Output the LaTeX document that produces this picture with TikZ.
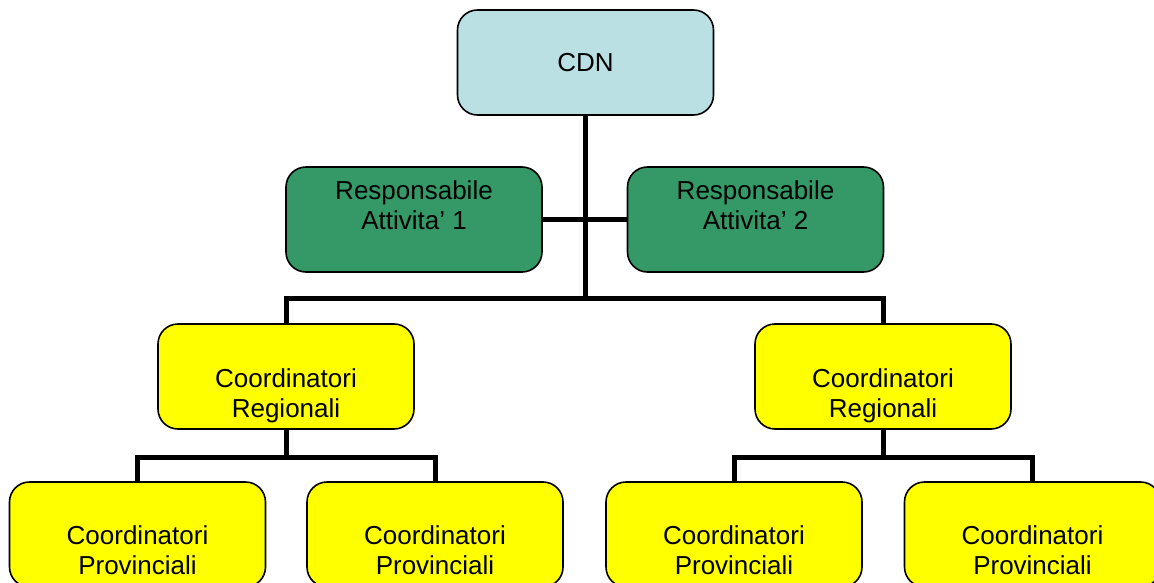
\documentclass[tikz,border=0pt]{standalone}
\usepackage{fontspec}
\setmainfont{Liberation Sans}
\definecolor{cdnblue}{RGB}{186,224,228}
\definecolor{resgreen}{RGB}{52,153,102}
\definecolor{coyellow}{RGB}{255,255,0}
\begin{document}
\begin{tikzpicture}[x=1pt,y=-1pt,
  box/.style={draw=black,line width=1.6pt,rounded corners=20pt,minimum width=256pt,minimum height=105pt,inner sep=0pt},
  conn/.style={draw=black,line width=5pt},
  txt/.style={align=center,font=\fontsize{26}{30}\selectfont,inner sep=0pt}]
\useasboundingbox (0,0) rectangle (1154,583);
% boxes
\node[box,fill=cdnblue] (cdn) at (585.5,62.5) {};
\node[box,fill=resgreen] (g1) at (414,219.5) {};
\node[box,fill=resgreen] (g2) at (755.5,219.5) {};
\node[box,fill=coyellow] (r1) at (286,376.5) {};
\node[box,fill=coyellow] (r2) at (883,376.5) {};
\node[box,fill=coyellow] (p1) at (137.5,534.5) {};
\node[box,fill=coyellow] (p2) at (435,534.5) {};
\node[box,fill=coyellow] (p3) at (734,534.5) {};
\node[box,fill=coyellow] (p4) at (1032.5,534.5) {};
% texts
\node[txt] (tcdn) at (585.5,63) {CDN};
\node[txt] (tg1) at (414,205) {Responsabile\\Attivita’ 1};
\node[txt] (tg2) at (755.5,205) {Responsabile\\Attivita’ 2};
\node[txt] (tr1) at (286,396) {Coordinatori\\Regionali};
\node[txt] (tr2) at (883,396) {Coordinatori\\Regionali};
\node[txt] (tp1) at (137.5,550) {Coordinatori\\Provinciali};
\node[txt] (tp2) at (435,550) {Coordinatori\\Provinciali};
\node[txt] (tp3) at (734,550) {Coordinatori\\Provinciali};
\node[txt] (tp4) at (1032.5,550) {Coordinatori\\Provinciali};
% connectors
\coordinate (bus) at (585.5,298);
\coordinate (cl) at (286,457);
\coordinate (cr) at (883,457);
\draw[conn] (cdn) -- (bus);
\draw[conn] (g1) -- (g2);
\draw[conn] (r1.north) |- (bus) -| (r2.north);
\draw[conn] (r1) -- (cl);
\draw[conn] (p1.north) |- (cl) -| (p2.north);
\draw[conn] (r2) -- (cr);
\draw[conn] (p3.north) |- (cr) -| (p4.north);
\end{tikzpicture}
\end{document}
